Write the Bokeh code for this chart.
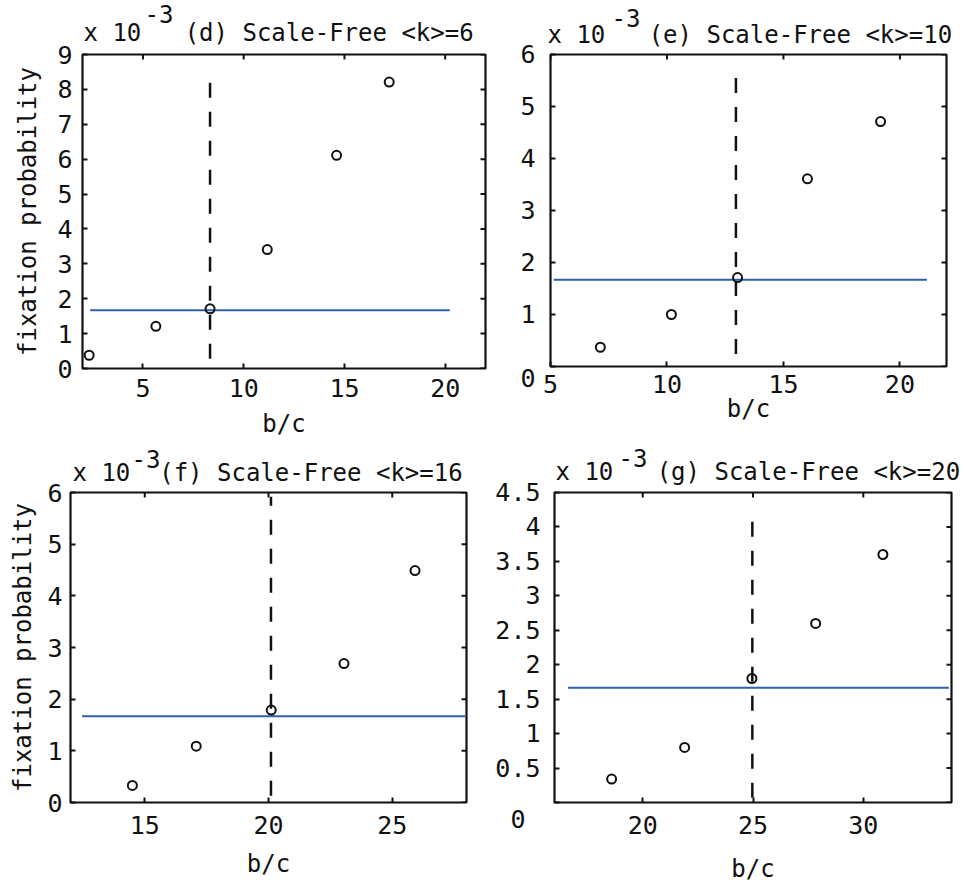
import math
from bokeh.plotting import figure
from bokeh.layouts import column, row
from bokeh.models import LinearAxis, FixedTicker, NumeralTickFormatter, Range1d, Title
from bokeh.embed import file_html
from bokeh.resources import INLINE

# ---------------- data (values in units of 1e-3) ----------------
d_bc = [2.33, 5.64, 8.33, 11.17, 14.61, 17.22]
d_fix = [0.38, 1.21, 1.71, 3.41, 6.11, 8.21]
d_thresh = 8.33
d_dash_y = [0.28, 8.24]
d_neutral_x = [2.38, 20.23]

e_bc = [7.14, 10.19, 13.03, 16.03, 19.17]
e_fix = [0.37, 1.0, 1.71, 3.61, 4.71]
e_thresh = 12.96
e_dash_y = [0.24, 5.63]
e_neutral_x = [5.14, 21.16]

f_bc = [14.5, 17.08, 20.11, 23.05, 25.92]
f_fix = [0.33, 1.09, 1.79, 2.69, 4.49]
f_thresh = 20.1
f_dash_y = [0.13, 5.92]
f_neutral_x = [12.47, 27.95]

g_bc = [18.59, 21.90, 24.95, 27.84, 30.89]
g_fix = [0.34, 0.80, 1.80, 2.60, 3.60]
g_thresh = 24.97
g_dash_y = [0.07, 4.23]
g_neutral_x = [16.61, 33.88]

neutral_y = 1.667  # 1/N

titles = ["(d) Scale-Free <k>=6", "(e) Scale-Free <k>=10",
          "(f) Scale-Free <k>=16", "(g) Scale-Free <k>=20"]
d_xticks = [5, 10, 15, 20]
e_xticks = [5, 10, 15, 20]
f_xticks = [15, 20, 25]
g_xticks = [20, 25, 30]
d_yticks = [0, 1, 2, 3, 4, 5, 6, 7, 8, 9]
e_yticks = [0, 1, 2, 3, 4, 5, 6]
f_yticks = [0, 1, 2, 3, 4, 5, 6]
g_yticks = [0, 0.5, 1, 1.5, 2, 2.5, 3, 3.5, 4, 4.5]

FONT = "DejaVu Sans Mono"
FS = "24px"
TFS = "25px"
INK = "#111111"
BLUE = "#2d5fae"
NB = "\u00a0"


def panel(bc, fix, thresh, dash_y, neutral_x, xr, yr, xticks, yticks, title,
          frame, borders, lay, ylabel=False, zero_label=None, zero_lh=None):
    bl, br, bt, bb = borders
    p = figure(frame_width=frame[0], frame_height=frame[1], output_backend="svg",
               toolbar_location=None,
               x_range=Range1d(*xr), y_range=Range1d(*yr),
               min_border_left=bl, min_border_right=br, min_border_top=bt, min_border_bottom=bb,
               x_axis_location=None, y_axis_location=None)
    p.grid.visible = False
    p.outline_line_color = INK
    p.outline_line_width = 2.2
    p.background_fill_color = "white"
    p.border_fill_color = "white"

    xb = LinearAxis(ticker=FixedTicker(ticks=xticks))
    yl = LinearAxis(ticker=FixedTicker(ticks=yticks), formatter=NumeralTickFormatter(format="0.[0]"))
    for ax in (xb, yl):
        ax.axis_line_color = None
        ax.major_tick_in = 5
        ax.major_tick_out = 0
        ax.major_tick_line_color = INK
        ax.major_tick_line_width = 2
        ax.minor_tick_line_color = None
        ax.major_label_text_font = FONT
        ax.major_label_text_font_size = TFS
        ax.major_label_text_color = INK
        ax.axis_label_text_font = FONT
        ax.axis_label_text_font_size = FS
        ax.axis_label_text_font_style = "normal"
        ax.axis_label_text_color = INK
    xb.major_label_standoff = lay["xstand"]
    yl.major_label_standoff = lay["ystand"]
    xb.axis_label = "b/c"
    xb.axis_label_standoff = lay["bc"]
    if ylabel:
        yl.axis_label = "fixation probability"
        yl.axis_label_standoff = lay["yl"]
    if zero_label is not None:
        yl.major_label_overrides = {0: zero_label}
    if zero_lh is not None:
        yl.major_label_text_line_height = zero_lh
    p.add_layout(xb, "below")
    p.add_layout(yl, "left")

    # inward ticks on the top and right edges of the box
    p.scatter([xr[1]] * len(yticks), yticks, marker="dash", size=10,
              line_color=INK, line_width=2)
    p.scatter(xticks, [yr[1]] * len(xticks), marker="dash", angle=math.pi / 2, size=10,
              line_color=INK, line_width=2)

    p.line([thresh, thresh], dash_y, line_color=INK, line_width=2.5, line_dash="15 14")
    p.line(neutral_x, [neutral_y, neutral_y], line_color=BLUE, line_width=2)
    p.scatter(bc, fix, marker="circle", size=9, fill_color=None, line_color=INK, line_width=2)

    main = Title(text="x 10" + NB * lay["gap"] + title, align="left", offset=lay["x10"],
                 standoff=lay["ts"], text_font=FONT, text_font_size=FS,
                 text_font_style="normal", text_color=INK)
    expo = Title(text="-3", align="left", offset=lay["exp"], standoff=lay["es"],
                 text_font=FONT, text_font_size=FS, text_font_style="normal", text_color=INK)
    p.add_layout(main, "above")
    p.add_layout(expo, "above")
    return p


pd_ = panel(d_bc, d_fix, d_thresh, d_dash_y, d_neutral_x, (2, 22), (0, 9), d_xticks, d_yticks,
            titles[0], (403, 314), (82, 5, 54, 72),
            dict(xstand=10, ystand=10, x10=1, gap=3, exp=62, ts=16, es=-28, bc=10, yl=12),
            ylabel=True)
pe_ = panel(e_bc, e_fix, e_thresh, e_dash_y, e_neutral_x, (5, 22), (0, 6), e_xticks, e_yticks,
            titles[1], (396, 312), (60, 14, 54, 74),
            dict(xstand=8, ystand=15, x10=-3, gap=3, exp=61, ts=12, es=-29, bc=-1),
            zero_label="\n0", zero_lh=0.8)
pf_ = panel(f_bc, f_fix, f_thresh, f_dash_y, f_neutral_x, (12, 28), (0, 6), f_xticks, f_yticks,
            titles[2], (396, 310), (70, 24, 52, 72),
            dict(xstand=13, ystand=8, x10=2, gap=2, exp=61, ts=12, es=-34, bc=13, yl=7),
            ylabel=True)
pg_ = panel(g_bc, g_fix, g_thresh, g_dash_y, g_neutral_x, (16, 34), (0, 4.5), g_xticks, g_yticks,
            titles[3], (397, 310), (64, 10, 52, 72),
            dict(xstand=13, ystand=14, x10=1, gap=3, exp=64, ts=14, es=-36, bc=18),
            zero_label="\n0" + NB)

layout = column(row(pd_, pe_), row(pf_, pg_))
open("out.html", "w").write(file_html(layout, INLINE))
